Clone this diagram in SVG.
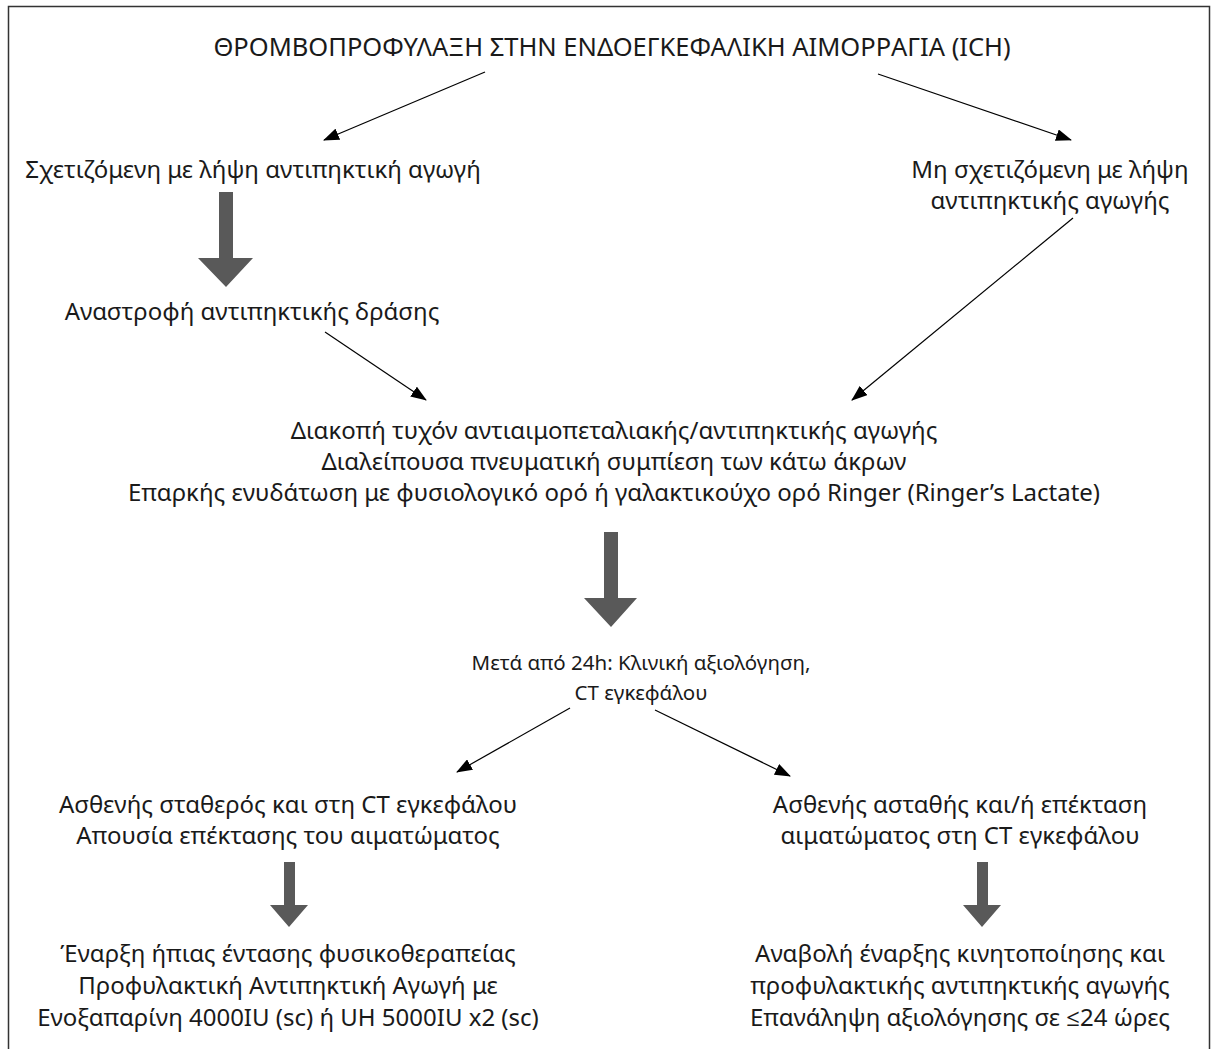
<svg xmlns="http://www.w3.org/2000/svg" width="1213" height="1049" viewBox="0 0 1213 1049">
<defs>
<style>
text{font-family:"Noto Sans","Open Sans","DejaVu Sans",sans-serif;font-size:24px;fill:#1a1a1a;text-anchor:middle}
.title{font-size:25.5px}
.small{font-size:20.5px}
.line{stroke:#000;stroke-width:1.2;fill:none;marker-end:url(#ah)}
.big{fill:#595959}
</style>
<marker id="ah" viewBox="0 0 16 12" refX="15" refY="6" markerWidth="16" markerHeight="12" markerUnits="userSpaceOnUse" orient="auto">
<path d="M0,0 L16,6 L0,12 Z" fill="#000"/>
</marker>
</defs>
<rect width="1213" height="1049" fill="#fff"/>
<path d="M8.5,1049 V6.5 H1209.5 V1049" fill="none" stroke="#333" stroke-width="1.5"/>

<g id="title"><text class="title" x="612" y="56">ΘΡΟΜΒΟΠΡΟΦΥΛΑΞΗ ΣΤΗΝ ΕΝΔΟΕΓΚΕΦΑΛΙΚΗ ΑΙΜΟΡΡΑΓΙΑ (ICH)</text></g>
<g id="n-related"><text x="253" y="178">Σχετιζόμενη με λήψη αντιπηκτική αγωγή</text></g>
<g id="n-unrelated"><text x="1050" y="178">Μη σχετιζόμενη με λήψη</text><text x="1050" y="209">αντιπηκτικής αγωγής</text></g>
<g id="n-reversal"><text x="252" y="320">Αναστροφή αντιπηκτικής δράσης</text></g>
<g id="n-measures">
<text x="614" y="439">Διακοπή τυχόν αντιαιμοπεταλιακής/αντιπηκτικής αγωγής</text>
<text x="614" y="470">Διαλείπουσα πνευματική συμπίεση των κάτω άκρων</text>
<text x="614" y="501">Επαρκής ενυδάτωση με φυσιολογικό ορό ή γαλακτικούχο ορό Ringer (Ringer’s Lactate)</text>
</g>
<g id="n-after24"><text class="small" x="641" y="670">Μετά από 24h: Κλινική αξιολόγηση,</text><text class="small" x="641" y="700">CT εγκεφάλου</text></g>
<g id="n-stable"><text x="288" y="813">Ασθενής σταθερός και στη CT εγκεφάλου</text><text x="288" y="844">Απουσία επέκτασης του αιματώματος</text></g>
<g id="n-unstable"><text x="960" y="813">Ασθενής ασταθής και/ή επέκταση</text><text x="960" y="844">αιματώματος στη CT εγκεφάλου</text></g>
<g id="n-start"><text x="288" y="962">Έναρξη ήπιας έντασης φυσικοθεραπείας</text><text x="288" y="994">Προφυλακτική Αντιπηκτική Αγωγή με</text><text x="288" y="1026">Ενοξαπαρίνη 4000IU (sc) ή UH 5000IU x2 (sc)</text></g>
<g id="n-delay"><text x="960" y="962">Αναβολή έναρξης κινητοποίησης και</text><text x="960" y="994">προφυλακτικής αντιπηκτικής αγωγής</text><text x="960" y="1026">Επανάληψη αξιολόγησης σε ≤24 ώρες</text></g>

<g id="connectors">
<line class="line" x1="485" y1="72" x2="324" y2="140"/>
<line class="line" x1="878" y1="74" x2="1071" y2="140"/>
<line class="line" x1="325" y1="332" x2="426" y2="400"/>
<line class="line" x1="1073" y1="218" x2="852" y2="400"/>
<line class="line" x1="570" y1="708" x2="457" y2="772"/>
<line class="line" x1="655" y1="710" x2="790" y2="776"/>
<path class="big" d="M219,192 H233 V258 H253 L226,287 L198,258 H219 Z"/>
<path class="big" d="M604,532 H618 V598 H637 L611,627 L584,598 H604 Z"/>
<path class="big" d="M284,862 H295 V905 H308 L289,927 L270,905 H284 Z"/>
<path class="big" d="M977,862 H988 V905 H1001 L982,927 L963,905 H977 Z"/>
</g>
</svg>
